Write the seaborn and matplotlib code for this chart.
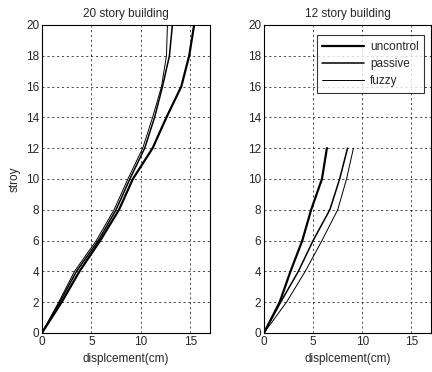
import matplotlib
matplotlib.use('Agg')
import matplotlib.pyplot as plt
import seaborn as sns
import pandas as pd

# storey displacement profiles
story_20 = [0, 2, 4, 6, 8, 10, 12, 14, 16, 18, 20]
uncontrol_20 = [0, 2.0, 3.8, 5.9, 7.8, 9.2, 11.2, 12.6, 14.1, 14.9, 15.4]
passive_20 = [0, 1.8, 3.5, 5.7, 7.5, 8.9, 10.4, 11.4, 12.2, 12.9, 13.2]
fuzzy_20 = [0, 1.7, 3.3, 5.5, 7.3, 8.7, 10.2, 11.2, 12.1, 12.6, 12.7]

story_12 = [0, 2, 4, 6, 8, 10, 12]
uncontrol_12 = [0, 1.6, 2.7, 3.9, 4.8, 5.9, 6.4]
passive_12 = [0, 1.7, 3.5, 5.0, 6.7, 7.7, 8.5]
fuzzy_12 = [0, 2.3, 4.2, 5.9, 7.5, 8.4, 9.1]

cases = ['uncontrol', 'passive', 'fuzzy']
widths = {'uncontrol': 1.6, 'passive': 1.1, 'fuzzy': 0.7}

sns.set_style('white')
plt.rcParams['font.family'] = ['Liberation Sans', 'DejaVu Sans']
plt.rc('font', size=8.5)
plt.rc('xtick', direction='in', labelsize=8.5)
plt.rc('ytick', direction='in', labelsize=8.5)

fig = plt.figure(figsize=(4.32, 3.72), dpi=100)
ax1 = fig.add_axes([0.097, 0.105, 0.389, 0.828])
ax2 = fig.add_axes([0.611, 0.105, 0.387, 0.828])

panels = [
    (ax1, story_20, [uncontrol_20, passive_20, fuzzy_20], '20 story building'),
    (ax2, story_12, [uncontrol_12, passive_12, fuzzy_12], '12 story building'),
]

for ax, story, series, title in panels:
    for name, disp in zip(cases, series):
        df = pd.DataFrame({'disp': disp, 'story': story})
        sns.lineplot(data=df, x='disp', y='story', sort=False, color='black',
                     lw=widths[name], label=name, ax=ax, legend=False)
    ax.set_xlim(0, 17)
    ax.set_ylim(0, 20)
    ax.set_xticks([0, 5, 10, 15])
    ax.set_yticks(range(0, 21, 2))
    ax.grid(True, color='black', linestyle=(0, (3, 4)), linewidth=0.5)
    for s in ax.spines.values():
        s.set_color('black')
        s.set_linewidth(0.8)
    ax.tick_params(length=3, color='black', pad=2)
    ax.set_title(title, fontsize=8.5, pad=6)
    ax.set_xlabel('displcement(cm)', fontsize=8.5, labelpad=4)
    ax.set_ylabel('')

ax1.set_ylabel('stroy', fontsize=8.5, labelpad=4)

leg = ax2.legend(loc='upper right', bbox_to_anchor=(0.995, 0.985), frameon=True,
                 fancybox=False, edgecolor='black', fontsize=8.5, handlelength=3.6,
                 borderpad=0.45, labelspacing=0.45, handletextpad=0.5)
leg.get_frame().set_linewidth(0.8)

fig.savefig('out.png', dpi=100)
